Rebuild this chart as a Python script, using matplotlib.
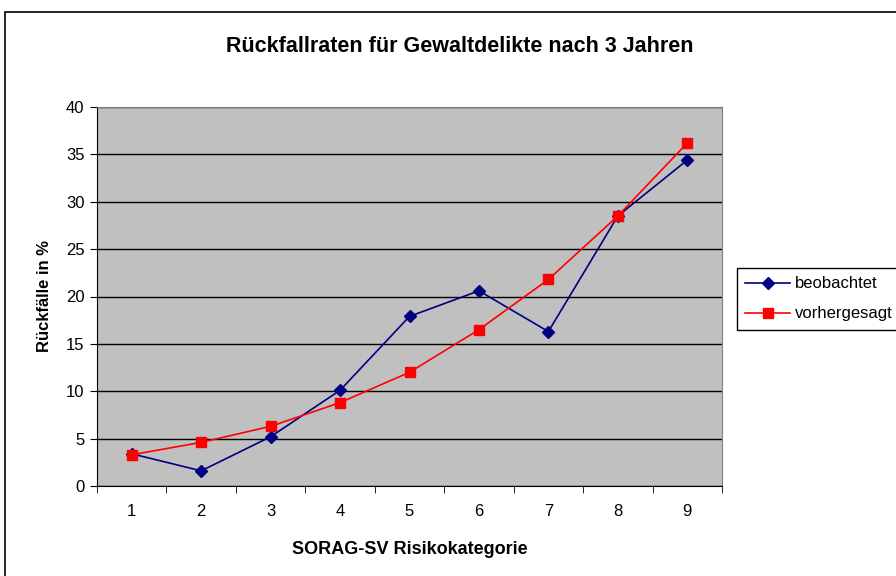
import matplotlib
matplotlib.use("Agg")
import matplotlib.pyplot as plt
from matplotlib.patches import Rectangle

plt.rcParams['font.family'] = ['Liberation Sans', 'DejaVu Sans']

kategorien = [1, 2, 3, 4, 5, 6, 7, 8, 9]
beobachtet = [3.4, 1.6, 5.2, 10.1, 17.9, 20.6, 16.3, 28.5, 34.4]
vorhergesagt = [3.3, 4.6, 6.3, 8.8, 12.0, 16.5, 21.8, 28.5, 36.2]

fig = plt.figure(figsize=(8.96, 5.76), dpi=100)
fig.patches.append(Rectangle((5 / 896, -0.1), 1.2, 1 - 12 / 576 + 0.1,
                             transform=fig.transFigure, fill=False,
                             edgecolor='black', linewidth=1.2))

ax = fig.add_axes([97 / 896, 90 / 576, 625 / 896, 379 / 576])
ax.set_facecolor('#C0C0C0')

ax.plot(kategorien, beobachtet, color='#000080', marker='D', markersize=6,
        linewidth=1.2, label='beobachtet')
ax.plot(kategorien, vorhergesagt, color='#FF0000', marker='s', markersize=7,
        linewidth=1.2, label='vorhergesagt')

ax.set_xlim(0.5, 9.5)
ax.set_ylim(0, 40)
ax.set_yticks(range(0, 41, 5))
ax.yaxis.grid(True, color='black', linewidth=1)
ax.set_axisbelow(True)

ax.set_xticks(kategorien)
ax.set_xticks([k - 0.5 for k in kategorien] + [9.5], minor=True)
ax.tick_params(axis='x', which='major', length=0, pad=13, labelsize=12)
ax.tick_params(axis='x', which='minor', length=5, direction='out', color='black')
ax.tick_params(axis='y', length=5, direction='out', labelsize=12, pad=4)

for s in ['top', 'right']:
    ax.spines[s].set_color('#808080')
ax.spines['left'].set_color('black')
ax.spines['bottom'].set_color('black')

ax.set_xlabel('SORAG-SV Risikokategorie', fontsize=13, fontweight='bold', labelpad=16)
ax.set_ylabel('Rückfälle in %', fontsize=12, fontweight='bold', labelpad=10)

fig.text(460 / 896, 1 - 46 / 576, 'Rückfallraten für Gewaltdelikte nach 3 Jahren',
         ha='center', va='center', fontsize=15.5, fontweight='bold')

leg = ax.legend(loc='upper left', bbox_to_anchor=(737 / 896, 1 - 268 / 576),
                bbox_transform=fig.transFigure, fancybox=False, shadow=False,
                framealpha=1, edgecolor='black', fontsize=12, borderaxespad=0,
                handlelength=2.7, handletextpad=0.3, labelspacing=0.9,
                borderpad=0.5)
leg.get_frame().set_linewidth(1)

fig.savefig('out.png', dpi=100)
